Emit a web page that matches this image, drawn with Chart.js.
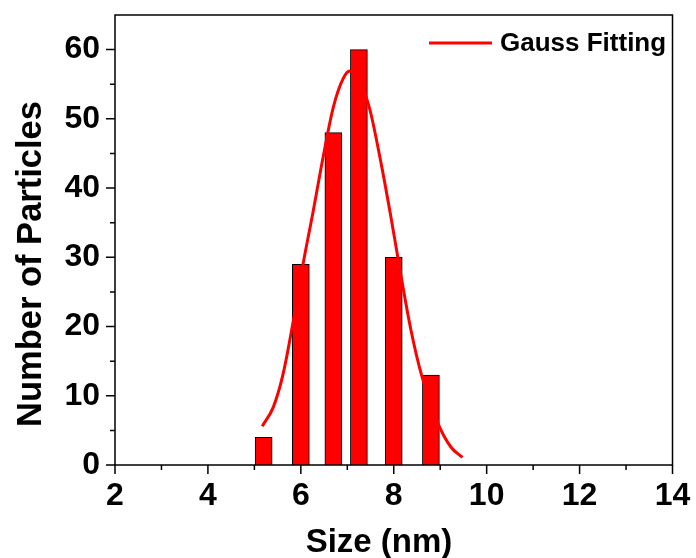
<!DOCTYPE html>
<html>
<head>
<meta charset="utf-8">
<title>Size distribution</title>
<script src="https://cdn.jsdelivr.net/npm/chart.js"></script>
<style>
  html, body { margin: 0; padding: 0; background: #fff; }
  #wrap { width: 696px; height: 558px; }
</style>
</head>
<body>
<div id="wrap"><canvas id="sizeChart" width="696" height="558"></canvas></div>
<script>
// histogram (bars)
const barSizes = [5.2, 6.0, 6.7, 7.25, 8.0, 8.8];
const barCounts = [4, 29, 48, 60, 30, 13];

// gauss fit curve
const fitSizes = [5.17, 5.41, 5.62, 5.84, 6.05, 6.27, 6.48, 6.70, 6.91, 7.05, 7.2, 7.41, 7.51, 7.73, 7.94, 8.16, 8.37, 8.59, 8.94, 9.23, 9.48];
const fitCounts = [5.6, 8.4, 13.2, 20.9, 29.1, 36.8, 44.5, 51.7, 55.8, 56.9, 56.7, 53.1, 50.7, 43.5, 35.8, 27.2, 19.5, 13.2, 6.2, 2.6, 1.1];

const xMajor = [2, 4, 6, 8, 10, 12, 14];
const xMinor = [3, 5, 7, 9, 11, 13];
const yMajor = [0, 10, 20, 30, 40, 50, 60];
const yMinor = [5, 15, 25, 35, 45, 55];

const xTitle = 'Size (nm)';
const yTitle = 'Number of Particles';

const FONT = '"Liberation Sans", Arial, sans-serif';

// frame, tick marks, axis titles and legend
const framePlugin = {
  id: 'frame',
  afterDraw(chart) {
    const ctx = chart.ctx;
    const a = chart.chartArea;
    const xs = chart.scales.x, ys = chart.scales.y;
    ctx.save();
    ctx.strokeStyle = '#000';
    ctx.lineWidth = 1.5;
    ctx.strokeRect(a.left, a.top, a.right - a.left, a.bottom - a.top);
    ctx.beginPath();
    xMajor.forEach(v => { const p = xs.getPixelForValue(v); ctx.moveTo(p, a.bottom); ctx.lineTo(p, a.bottom + 9); });
    xMinor.forEach(v => { const p = xs.getPixelForValue(v); ctx.moveTo(p, a.bottom); ctx.lineTo(p, a.bottom + 5); });
    yMajor.forEach(v => { const p = ys.getPixelForValue(v); ctx.moveTo(a.left, p); ctx.lineTo(a.left - 9, p); });
    yMinor.forEach(v => { const p = ys.getPixelForValue(v); ctx.moveTo(a.left, p); ctx.lineTo(a.left - 5, p); });
    ctx.stroke();

    // axis titles
    ctx.fillStyle = '#000';
    ctx.textAlign = 'center';
    ctx.textBaseline = 'alphabetic';
    ctx.font = 'bold 33px ' + FONT;
    ctx.fillText(xTitle, 379, 552);
    ctx.save();
    ctx.translate(41, 264);
    ctx.rotate(-Math.PI / 2);
    ctx.font = 'bold 34.5px ' + FONT;
    ctx.fillText(yTitle, 0, 0);
    ctx.restore();

    // legend
    const ds = chart.data.datasets[0];
    ctx.strokeStyle = ds.borderColor;
    ctx.lineWidth = 3;
    ctx.beginPath();
    ctx.moveTo(429, 43);
    ctx.lineTo(492, 43);
    ctx.stroke();
    ctx.textAlign = 'left';
    ctx.font = 'bold 26px ' + FONT;
    ctx.textBaseline = 'middle';
    ctx.fillText(ds.label, 500, 44);
    ctx.restore();
  }
};

new Chart(document.getElementById('sizeChart'), {
  type: 'bar',
  data: {
    datasets: [{
      type: 'line',
      label: 'Gauss Fitting',
      data: fitSizes.map((x, i) => ({x: x, y: fitCounts[i]})),
      borderColor: '#ff0000',
      borderWidth: 3,
      pointRadius: 0,
      cubicInterpolationMode: 'monotone',
      fill: false,
      order: 0
    }, {
      type: 'bar',
      label: 'Counts',
      data: barSizes.map((x, i) => ({x: x, y: barCounts[i]})),
      backgroundColor: '#ff0000',
      borderColor: '#000',
      borderWidth: 1,
      barThickness: 17,
      order: 1
    }]
  },
  options: {
    responsive: false,
    animation: false,
    layout: { padding: { top: 15, right: 23.5, left: 0, bottom: 0 } },
    plugins: { legend: { display: false }, tooltip: { enabled: false } },
    scales: {
      x: {
        type: 'linear',
        min: 2, max: 14,
        offset: false,
        grid: { display: false, drawTicks: false },
        border: { display: false },
        ticks: { autoSkip: false, maxRotation: 0, padding: 12, color: '#000', font: { family: FONT, size: 32, weight: 'bold' } },
        afterBuildTicks(s) { s.ticks = xMajor.map(v => ({value: v})); },
        afterFit(s) { s.height = 93; s.paddingLeft = 0; s.paddingRight = 0; }
      },
      y: {
        min: 0, max: 65,
        grid: { display: false, drawTicks: false },
        border: { display: false },
        ticks: { autoSkip: false, padding: 15, color: '#000', font: { family: FONT, size: 32, weight: 'bold' } },
        afterBuildTicks(s) { s.ticks = yMajor.map(v => ({value: v})); },
        afterFit(s) { s.width = 115; s.paddingTop = 0; s.paddingBottom = 0; }
      }
    }
  },
  plugins: [framePlugin]
});
</script>
</body>
</html>
